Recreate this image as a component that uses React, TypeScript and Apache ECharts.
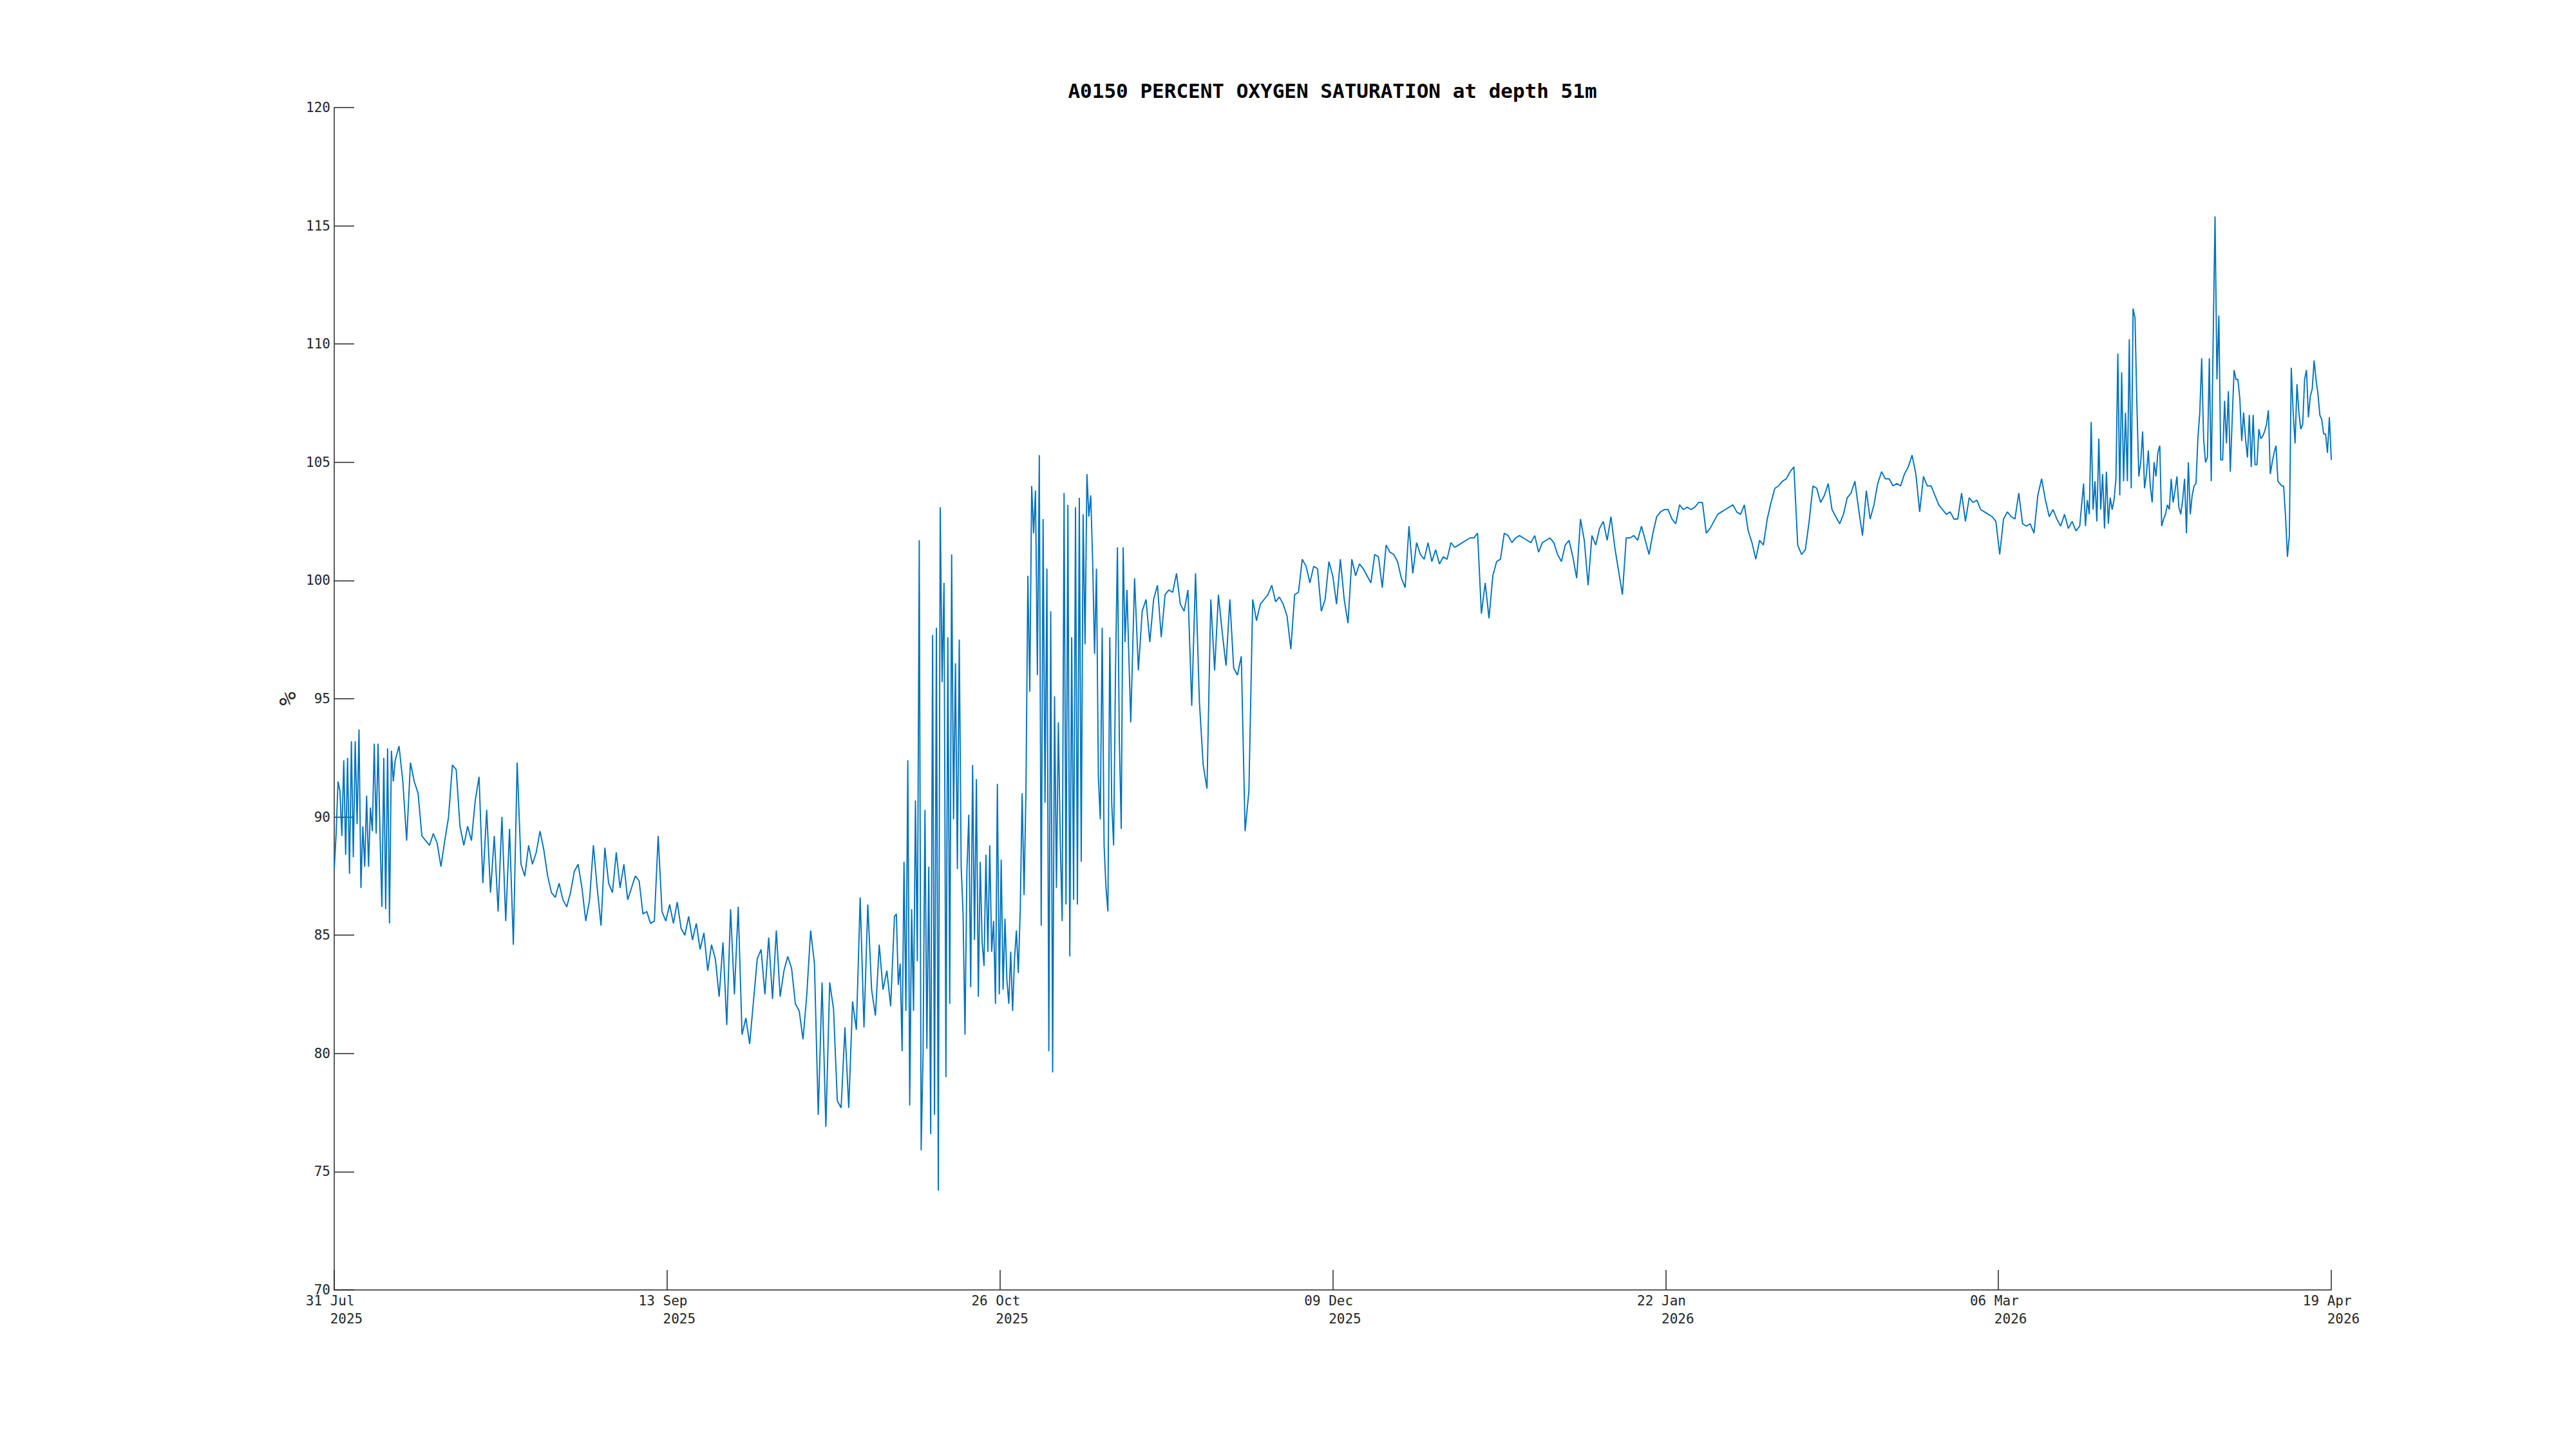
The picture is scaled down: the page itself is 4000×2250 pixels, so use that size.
import React, { useEffect, useRef } from "react";
import * as echarts from "echarts";

// ---------- text ----------
const TITLE = "A0150 PERCENT OXYGEN SATURATION at depth 51m";
const Y_NAME = "%";
const MONTHS = ["Jan", "Feb", "Mar", "Apr", "May", "Jun", "Jul", "Aug", "Sep", "Oct", "Nov", "Dec"];

// ---------- axes ----------
const START_DATE_UTC = Date.UTC(2025, 6, 31); // 31 Jul 2025 = hour 0
const X_MAX_HOURS = 6288; // 19 Apr 2026
const X_TICK_HOURS = 1048; // 7 ticks: 31 Jul, 13 Sep, 26 Oct, 09 Dec, 22 Jan, 06 Mar, 19 Apr
const Y_MIN = 70;
const Y_MAX = 120;
const Y_STEP = 5;

// ---------- data (percent oxygen saturation) ----------
// 31 Jul .. 08 Aug, every 6 h (start day 0)
const augEarly = [
  87.8, 89.3, 91.5, 91.1, 89.2, 92.4, 88.4, 92.5, 87.6, 93.2, 88.3, 93.2, 89.7, 93.7, 87.0, 89.6,
  87.9, 90.9, 87.9, 90.4, 89.4, 93.1, 89.3, 93.1, 89.4, 86.2, 92.5, 86.1, 92.9, 85.5, 92.8, 91.5, 92.4,
];
// day 8.5 .. 42, every 12 h
const augSep = [
  93.0, 91.5, 89.0, 92.3, 91.5, 91.0, 89.2, 89.0, 88.8, 89.3, 88.9, 87.9, 89.0, 90.0, 92.2, 92.0,
  89.6, 88.8, 89.6, 89.0, 90.7, 91.7, 87.2, 90.3, 86.8, 89.2, 86.0, 90.0, 85.6, 89.5, 84.6, 92.3,
  88.0, 87.5, 88.8, 88.0, 88.5, 89.4, 88.6, 87.5, 86.8, 86.6, 87.2, 86.5, 86.2, 86.8, 87.7, 88.0,
  87.0, 85.6, 86.5, 88.8, 87.0, 85.4, 88.7, 87.2, 86.8, 88.5, 87.0, 88.0, 86.5, 87.0, 87.5, 87.3,
  85.9, 86.0, 85.5, 85.6,
];
// day 42.5 .. 73.5, every 12 h
const sepOct = [
  89.2, 86.0, 85.6, 86.3, 85.5, 86.4, 85.3, 85.0, 85.8, 84.8, 85.5, 84.4, 85.1, 83.5, 84.6, 84.0,
  82.4, 84.7, 81.2, 86.1, 82.5, 86.2, 80.8, 81.5, 80.4, 82.2, 84.0, 84.4, 82.5, 84.9, 82.3, 85.2,
  82.4, 83.5, 84.1, 83.6, 82.1, 81.8, 80.6, 82.5, 85.2, 83.8, 77.4, 83.0, 76.9, 83.0, 81.9, 78.0,
  77.7, 81.1, 77.7, 82.2, 81.0, 86.6, 81.1, 86.3, 82.7, 81.6, 84.6, 82.7, 83.5, 82.0, 85.8,
];
// day 73.75 .. 104, every 6 h
const octNov = [
  85.9,
  82.9, 83.8, 80.1, 88.1,
  81.8, 92.4, 77.8, 86.1,
  81.8, 90.7, 83.9, 101.7,
  75.9, 80.0, 90.3, 80.2,
  87.9, 76.6, 97.7, 77.4,
  98.0, 74.2, 103.1, 95.7,
  99.9, 79.0, 97.6, 82.1,
  101.1, 89.9, 96.5, 87.8,
  97.5, 87.9, 85.9, 80.8,
  87.7, 90.1, 82.8, 92.2,
  84.8, 91.6, 82.4, 88.1,
  84.7, 83.7, 88.4, 84.3,
  88.8, 84.3, 85.6, 82.1,
  91.4, 82.5, 88.2, 82.7,
  85.7, 83.1, 82.1, 84.3,
  81.8, 84.0, 85.2, 83.4,
  86.1, 91.0, 86.7, 91.1,
  100.2, 95.3, 104.0, 102.0,
  103.8, 96.0, 105.3, 85.4,
  102.6, 90.6, 100.5, 80.1,
  98.7, 79.2, 95.1, 87.0,
  94.0, 89.0, 85.6, 103.7,
  86.3, 103.2, 84.1, 97.6,
  86.5, 103.1, 86.3, 103.5,
  88.1, 102.8, 97.3, 104.5,
  102.7, 103.6, 100.8, 96.9,
  100.5, 91.7, 89.9, 98.0,
  88.8, 87.0, 86.0, 97.6,
  90.6, 88.8, 96.2, 101.4,
  93.3, 89.5, 101.4, 97.4,
  99.6,
];
// day 104.5 .. 159, every 12 h
const novDec = [
  94.0, 100.1, 96.2, 98.7, 99.2, 97.4, 99.2, 99.8, 97.6, 99.4, 99.6, 99.5, 100.3, 99.0, 98.7, 99.6,
  94.7, 100.3, 94.9, 92.2, 91.2, 99.2, 96.2, 99.4, 97.8, 96.4, 99.2, 96.3, 96.0, 96.8, 89.4, 91.1,
  99.2, 98.3, 99.0, 99.2, 99.4, 99.8, 99.1, 99.3, 99.0, 98.5, 97.1, 99.4, 99.5, 100.9, 100.6, 99.9,
  100.6, 100.5, 98.7, 99.2, 100.8, 100.2, 99.0, 100.9, 99.2, 98.2, 100.9, 100.2, 100.7, 100.5, 100.2, 99.9,
  101.1, 101.0, 99.7, 101.5, 101.2, 101.1, 100.8, 100.1, 99.7, 102.3, 100.3, 101.6, 101.1, 100.9, 101.6, 100.8,
  101.3, 100.7, 101.0, 100.9, 101.6, 101.4, 101.5, 101.6, 101.7, 101.8, 101.8, 102.0, 98.6, 99.9, 98.4, 100.2,
  100.8, 100.9, 102.0, 101.9, 101.6, 101.8, 101.9, 101.8, 101.7, 101.6, 101.9, 101.2, 101.6, 101.7,
];
// day 159.5 .. 200, every 12 h
const decJan = [
  101.8, 101.6, 101.1, 100.8, 101.5, 101.7, 101.0, 100.1, 102.6, 101.7, 99.8, 101.9, 101.5, 102.2, 102.5, 101.7,
  102.7, 101.4, 100.4, 99.4, 101.8, 101.8, 101.9, 101.7, 102.3, 101.7, 101.1, 102.0, 102.7, 102.9, 103.0, 103.0,
  102.6, 102.4, 103.2, 103.0, 103.1, 103.0, 103.1, 103.3, 103.3, 102.0, 102.2, 102.5, 102.8, 102.9, 103.0, 103.1,
  103.2, 102.9, 102.8, 103.2, 102.1, 101.6, 100.9, 101.7, 101.5, 102.6, 103.3, 103.9, 104.0, 104.2, 104.3, 104.6,
  104.8, 101.5, 101.1, 101.3, 102.5, 104.0, 103.9, 103.3, 103.6, 104.1, 103.0, 102.7, 102.4, 102.8, 103.5, 103.7,
  104.2, 103.0,
];
// day 200.5 .. 228.5, every 12 h
const febMar = [
  101.9, 103.8, 102.6, 103.2, 104.1, 104.6, 104.3, 104.3, 104.0, 104.1, 104.0, 104.5, 104.8, 105.3, 104.5, 102.9,
  104.4, 104.0, 104.0, 103.6, 103.2, 103.0, 102.8, 102.9, 102.6, 102.6, 103.7, 102.5, 103.5, 103.3, 103.4, 103.0,
  102.9, 102.8, 102.7, 102.5, 101.1, 102.6, 102.9, 102.7, 102.6, 103.7, 102.4, 102.3, 102.4, 102.0, 103.6, 104.3,
  103.4, 102.7, 103.0, 102.6, 102.3, 102.8, 102.2, 102.5, 102.1,
];
// day 229 .. 262, every 6 h
const marApr = [
  102.3, 103.2, 104.1, 102.3,
  103.4, 102.8, 106.7, 103.0,
  104.2, 102.5, 106.0, 103.0,
  104.5, 102.2, 104.6, 102.4,
  103.5, 103.0, 103.4, 104.3,
  109.6, 103.6, 108.8, 104.2,
  107.1, 104.2, 110.2, 103.9,
  111.5, 111.1, 107.4, 104.4,
  105.0, 106.3, 103.9, 104.5,
  105.5, 104.0, 103.3, 105.0,
  104.4, 105.4, 105.7, 102.3,
  102.6, 102.8, 103.2, 103.0,
  104.3, 103.3, 103.8, 104.4,
  103.1, 102.8, 103.4, 104.3,
  102.0, 105.0, 102.8, 103.6,
  104.0, 104.1, 106.0, 107.1,
  109.4, 106.0, 105.0, 105.2,
  109.4, 104.2, 110.1, 115.4,
  108.5, 111.2, 105.1, 105.1,
  107.6, 105.8, 108.0, 104.6,
  106.8, 108.9, 108.5, 108.5,
  107.7, 105.9, 107.1, 106.0,
  105.2, 107.0, 104.8, 107.0,
  104.9, 104.9, 106.4, 106.0,
  106.1, 106.3, 106.6, 107.2,
  104.5, 105.0, 105.4, 105.7,
  104.2, 104.1, 104.0, 104.0,
  102.7, 101.0, 101.9, 109.0,
  107.1, 105.8, 108.3, 107.1,
  106.4, 106.6, 108.5, 108.9,
  106.9, 107.8, 108.1, 109.3,
  108.5, 107.9, 107.0, 106.8,
  106.2, 106.2, 105.4, 106.9,
  105.1,
];

const SEGMENTS = [
  { startDay: 0, stepDays: 0.25, values: augEarly },
  { startDay: 8.5, stepDays: 0.5, values: augSep },
  { startDay: 42.5, stepDays: 0.5, values: sepOct },
  { startDay: 73.75, stepDays: 0.25, values: octNov },
  { startDay: 104.5, stepDays: 0.5, values: novDec },
  { startDay: 159.5, stepDays: 0.5, values: decJan },
  { startDay: 200.5, stepDays: 0.5, values: febMar },
  { startDay: 229, stepDays: 0.25, values: marApr },
];

const FONT = "'DejaVu Sans Mono', monospace";
const AXIS_COLOR = "#262626";
const LINE_COLOR = "#0072BD";

function formatDateTick(hours: number): string {
  const day = Math.round(hours / 24);
  const d = new Date(START_DATE_UTC + day * 86400000);
  const dd = String(d.getUTCDate()).padStart(2, "0");
  return `${dd} ${MONTHS[d.getUTCMonth()]}\u00a0\n\u00a0\u00a0\u00a0${d.getUTCFullYear()}`;
}

export default function App() {
  const ref = useRef<HTMLDivElement>(null);

  useEffect(() => {
    if (!ref.current) return;
    const chart = echarts.init(ref.current, undefined, { renderer: "svg" });

    const data: [number, number][] = [];
    SEGMENTS.forEach((seg) => {
      seg.values.forEach((v, i) => {
        data.push([(seg.startDay + i * seg.stepDays) * 24, v]);
      });
    });

    chart.setOption({
      animation: false,
      backgroundColor: "#ffffff",
      title: {
        text: TITLE,
        left: 2069,
        top: 125,
        padding: 0,
        textAlign: "center",
        textStyle: {
          fontFamily: FONT,
          fontSize: 31,
          fontWeight: "bold",
          color: "#000000",
        },
      },
      grid: { left: 519, right: 380, top: 167, bottom: 247, containLabel: false },
      xAxis: {
        type: "value",
        min: 0,
        max: X_MAX_HOURS,
        interval: X_TICK_HOURS,
        axisLine: { show: true, lineStyle: { color: AXIS_COLOR, width: 1.5 } },
        axisTick: { show: true, inside: true, length: 31, lineStyle: { color: AXIS_COLOR, width: 1.5 } },
        splitLine: { show: false },
        axisLabel: {
          show: true,
          margin: 3,
          fontFamily: FONT,
          fontSize: 21,
          lineHeight: 28,
          color: AXIS_COLOR,
          showMinLabel: true,
          showMaxLabel: true,
          formatter: (v: number) => formatDateTick(v),
        },
      },
      yAxis: {
        type: "value",
        min: Y_MIN,
        max: Y_MAX,
        interval: Y_STEP,
        name: Y_NAME,
        nameLocation: "middle",
        nameRotate: 90,
        nameGap: 54,
        nameTextStyle: { fontFamily: FONT, fontSize: 36, color: AXIS_COLOR },
        axisLine: { show: true, lineStyle: { color: AXIS_COLOR, width: 1.5 } },
        axisTick: { show: true, inside: true, length: 31, lineStyle: { color: AXIS_COLOR, width: 1.5 } },
        splitLine: { show: false },
        axisLabel: {
          show: true,
          margin: 6,
          fontFamily: FONT,
          fontSize: 21,
          color: AXIS_COLOR,
        },
      },
      series: [
        {
          type: "line",
          data,
          showSymbol: false,
          symbol: "none",
          silent: true,
          lineStyle: { width: 1.9, color: LINE_COLOR },
        },
      ],
    });

    return () => chart.dispose();
  }, []);

  return (
    <div
      ref={ref}
      style={{ position: "absolute", left: 0, top: 0, width: 4000, height: 2250, background: "#fff" }}
    />
  );
}
